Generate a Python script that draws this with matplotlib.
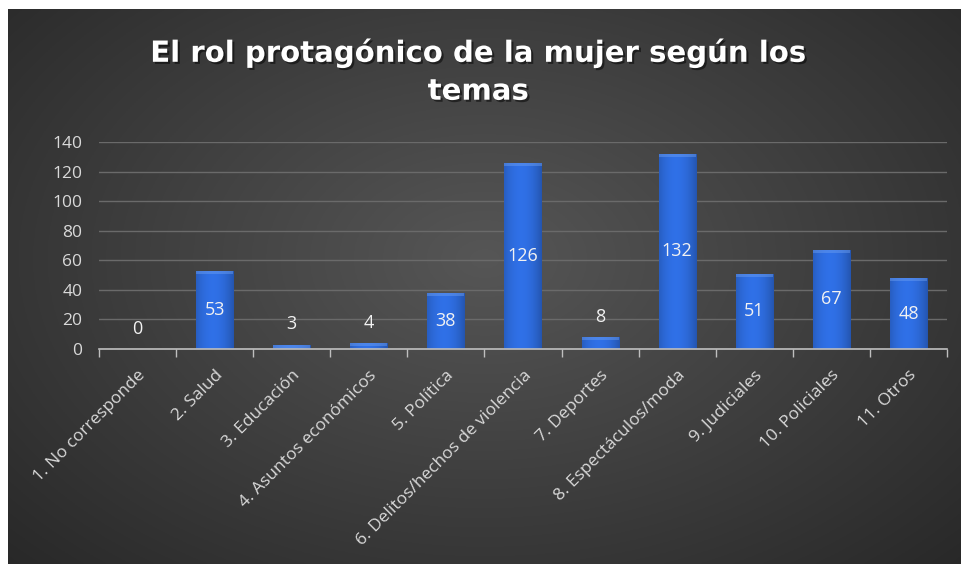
import numpy as np
import matplotlib
matplotlib.use("Agg")
import matplotlib.pyplot as plt
import matplotlib.patheffects as pe

categories = ["1. No corresponde", "2. Salud", "3. Educación", "4. Asuntos económicos",
              "5. Política", "6. Delitos/hechos de violencia", "7. Deportes",
              "8. Espectáculos/moda", "9. Judiciales", "10. Policiales", "11. Otros"]
values = [0, 53, 3, 4, 38, 126, 8, 132, 51, 67, 48]
yticks = [0, 20, 40, 60, 80, 100, 120, 140]
title = "El rol protagónico de la mujer según los\ntemas"

plt.rcParams['font.family'] = ['Open Sans', 'DejaVu Sans']

W, H = 962, 564
fig = plt.figure(figsize=(W / 100, H / 100), dpi=100)
fig.patch.set_facecolor("white")

# background panel with radial gradient
bg = fig.add_axes([8 / W, 0, 1 - 8 / W, 1 - 9 / H])
bg.set_axis_off()
yy, xx = np.mgrid[0:1:300j, 0:1:500j]
cx, cy = 0.5, 0.55
r = np.sqrt(((xx - cx) / 0.75) ** 2 + ((yy - cy) / 0.85) ** 2)
r = np.clip(r, 0, 1)
c0 = np.array([0x56, 0x56, 0x56]) / 255
c1 = np.array([0x25, 0x25, 0x25]) / 255
img = c0[None, None, :] * (1 - r[..., None]) + c1[None, None, :] * r[..., None]
bg.imshow(img, extent=[0, 1, 0, 1], aspect="auto", origin="lower")
bg.set_xlim(0, 1)
bg.set_ylim(0, 1)

ax = fig.add_axes([99 / W, 1 - 349 / H, (947 - 99) / W, (349 - 142) / H])
ax.patch.set_alpha(0)
x = np.arange(len(categories))
bars = ax.bar(x, values, width=0.48, color="#2a64d0", zorder=3)

# bar gradient fill
grad = np.linspace(0, 1, 64)
shade = 1 - 0.6 * (np.abs(grad - 0.45) * 2) ** 2
base = np.array([0x2c, 0x68, 0xd6]) / 255
gimg = np.clip(base[None, None, :] * (0.72 + 0.36 * shade[None, :, None]), 0, 1)
for b in bars:
    if b.get_height() <= 0:
        continue
    x0, w, h = b.get_x(), b.get_width(), b.get_height()
    im = ax.imshow(gimg, extent=[x0, x0 + w, 0, h], aspect="auto", zorder=4)
    im.set_clip_path(b)
    bev = min(h, 2.2)
    ax.fill_between([x0, x0 + w], h - bev, h, color="#6fa0f0", alpha=0.45, zorder=5, lw=0)

ax.set_xlim(-0.5, len(categories) - 0.5)
ax.set_ylim(0, 140)
ax.set_yticks(yticks)
ax.set_yticklabels([str(v) for v in yticks], color="#d9d9d9", fontsize=12.5)
ax.grid(axis="y", color="#6a6a6a", lw=1, zorder=0)
ax.tick_params(axis="y", length=0, pad=12)

ax.set_xticks(x)
ax.set_xticklabels(categories, rotation=45, ha="right", rotation_mode="anchor",
                   color="#d9d9d9", fontsize=12.5)
ax.tick_params(axis="x", length=0, pad=13)
ax.set_xticks(np.arange(-0.5, len(categories)), minor=True)
ax.tick_params(axis="x", which="minor", length=6, color="#bfbfbf", width=1)

for s in ["top", "right", "left"]:
    ax.spines[s].set_visible(False)
ax.spines["bottom"].set_color("#bfbfbf")
ax.spines["bottom"].set_linewidth(1.2)
ax.spines["bottom"].set_zorder(6)

for xi, v in zip(x, values):
    if v < 15:
        ax.annotate(str(v), (xi, v), xytext=(0, 8), textcoords="offset points",
                    ha="center", va="bottom", color="#f2f2f2", fontsize=13, zorder=7)
    else:
        ax.text(xi, v / 2, str(v), ha="center", va="center", color="#f2f2f2",
                fontsize=13, zorder=7)

fig.text(0.497, 1 - 72 / H, title, ha="center", va="center", color="white",
         fontsize=21, fontweight="bold", family=["DejaVu Sans"], linespacing=1.45,
         path_effects=[pe.withSimplePatchShadow(offset=(1.5, -1.5), shadow_rgbFace="black", alpha=0.5)])

fig.savefig("out.png", dpi=100, facecolor=fig.get_facecolor())
